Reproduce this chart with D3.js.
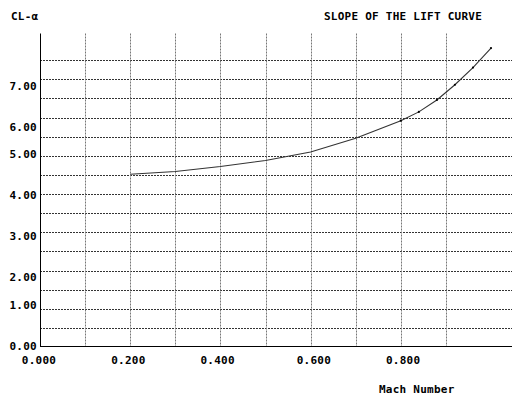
<!DOCTYPE html>
<html>
<head>
    <title>Slope of the Lift Curve</title>
    <script src="https://d3js.org/d3.v7.min.js"></script>
    <style>
        body { margin: 0; background: #fff; }
        text {
            font-family: "DejaVu Sans Mono", "Liberation Mono", monospace;
            font-weight: bold;
            font-size: 11px;
            letter-spacing: 0.25px;
            fill: #000;
        }
    </style>
</head>
<body>
    <svg width="512" height="396"></svg>

    <script>
        // data
        var mach = [0.20, 0.30, 0.40, 0.50, 0.60, 0.70, 0.80, 0.84, 0.88, 0.92, 0.96, 1.00];
        var clAlpha = [4.52, 4.59, 4.72, 4.88, 5.10, 5.46, 5.92, 6.15, 6.46, 6.86, 7.31, 7.82];

        var xTicks = [0, 0.2, 0.4, 0.6, 0.8];
        var xGrid = [0.1, 0.2, 0.3, 0.4, 0.5, 0.6, 0.7, 0.8, 0.9];
        var yTicks = [0, 1, 2, 3, 4, 5, 6, 7];
        var yGrid = [0.5, 1, 1.5, 2, 2.5, 3, 3.5, 4, 4.5, 5, 5.5, 6, 6.5, 7, 7.5];

        var W = 512, H = 396;
        var svg = d3.select('svg');

        var x = d3.scaleLinear().domain([0, 1]).range([40, 491]);
        var y = d3.scaleLinear().domain([0, 8.2]).range([347, 33.5]);

        // old screen output: labels sit on a character grid
        var colW = 6.87, rowH = 13.7;
        function snapCol(px) { return 15 + Math.round((px - 17 - 15) / colW) * colW; }
        function snapRow(px) { return 346 - Math.floor((346 - px) / rowH + 0.29) * rowH; }

        // grid
        svg.append('g').selectAll('line')
            .data(yGrid)
            .enter()
            .append('line')
            .attr('x1', x(0)).attr('x2', W)
            .attr('y1', function(d) { return Math.round(y(d)) + 0.5; })
            .attr('y2', function(d) { return Math.round(y(d)) + 0.5; })
            .attr('stroke', '#333')
            .attr('stroke-dasharray', '2,1');

        svg.append('g').selectAll('line')
            .data(xGrid)
            .enter()
            .append('line')
            .attr('x1', function(d) { return Math.round(x(d)) + 0.5; })
            .attr('x2', function(d) { return Math.round(x(d)) + 0.5; })
            .attr('y1', y(8.2)).attr('y2', y(0))
            .attr('stroke', '#777')
            .attr('stroke-dasharray', '2,1');

        // axes
        svg.append('line')
            .attr('x1', x(0) + 0.5).attr('x2', x(0) + 0.5)
            .attr('y1', y(8.2)).attr('y2', y(0))
            .attr('stroke', '#000');
        svg.append('line')
            .attr('x1', x(0)).attr('x2', W)
            .attr('y1', y(0) - 0.5).attr('y2', y(0) - 0.5)
            .attr('stroke', '#000');

        // tick labels
        svg.append('g').selectAll('text')
            .data(yTicks)
            .enter()
            .append('text')
            .attr('x', 37)
            .attr('y', function(d) { return snapRow(y(d)); })
            .attr('dy', '0.36em')
            .attr('text-anchor', 'end')
            .text(function(d) { return d3.format('.2f')(d); });

        svg.append('g').selectAll('text')
            .data(xTicks)
            .enter()
            .append('text')
            .attr('x', function(d) { return snapCol(x(d)); })
            .attr('y', 360)
            .attr('dy', '0.36em')
            .text(function(d) { return d3.format('.3f')(d); });

        // titles
        svg.append('text').attr('x', 11).attr('y', 16).attr('dy', '0.36em').text('CL-\u03b1');
        svg.append('text').attr('x', 324).attr('y', 16.5).attr('dy', '0.36em').text('SLOPE OF THE LIFT CURVE');
        svg.append('text').attr('x', 379).attr('y', 389).attr('dy', '0.36em').text('Mach Number');

        // curve
        var pts = mach.map(function(m, i) { return [m, clAlpha[i]]; });
        var line = d3.line()
            .x(function(d) { return x(d[0]); })
            .y(function(d) { return y(d[1]); });

        svg.append('path')
            .datum(pts)
            .attr('d', line)
            .attr('fill', 'none')
            .attr('stroke', '#333')
            .attr('stroke-width', 1.1);

        // markers only show on the denser points near M=1
        svg.append('g').selectAll('circle')
            .data(pts.filter(function(d) { return d[0] >= 0.8; }))
            .enter()
            .append('circle')
            .attr('cx', function(d) { return x(d[0]); })
            .attr('cy', function(d) { return y(d[1]); })
            .attr('r', 1.1)
            .attr('fill', '#000');
    </script>
</body>
</html>
